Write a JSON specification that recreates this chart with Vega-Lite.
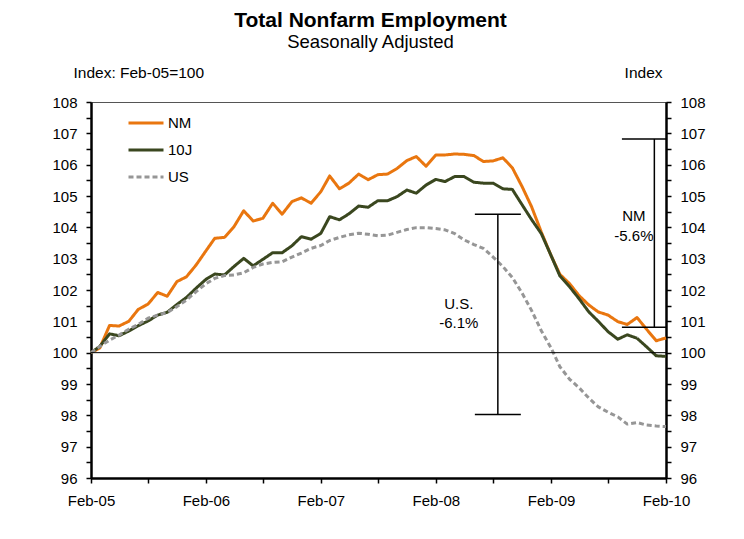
{
  "$schema": "https://vega.github.io/schema/vega-lite/v6.json",
  "width": 575,
  "height": 376,
  "autosize": {"type": "none"},
  "padding": {"left": 91, "top": 102, "right": 78, "bottom": 61},
  "background": "white",
  "config": {
    "font": "Liberation Sans",
    "view": {"stroke": "#555555", "strokeWidth": 1},
    "axis": {"grid": false, "labelFont": "Liberation Sans", "labelFontSize": 15, "labelColor": "black", "domainColor": "black", "domainWidth": 2.5, "tickColor": "black", "tickWidth": 1.5, "tickSize": 5, "titleFont": "Liberation Sans", "titleFontSize": 15.5, "titleFontWeight": "normal", "titleColor": "black"},
    "legend": {"labelFont": "Liberation Sans", "labelFontSize": 15, "labelColor": "black", "symbolType": "stroke", "symbolSize": 1225, "symbolStrokeWidth": 3}
  },
  "title": {
    "text": "Total Nonfarm Employment",
    "subtitle": "Seasonally Adjusted",
    "fontSize": 21,
    "fontWeight": "bold",
    "color": "black",
    "subtitleFontSize": 18.5,
    "subtitleColor": "black",
    "subtitlePadding": 2,
    "anchor": "middle",
    "frame": "group",
    "dx": -8,
    "offset": 14
  },
  "datasets": {
    "employment": [
      {"date": "2005-02-01", "NM": 100.0, "10J": 100.0, "US": 100.0},
      {"date": "2005-03-01", "NM": 100.15, "10J": 100.2, "US": 100.2},
      {"date": "2005-04-01", "NM": 100.87, "10J": 100.6, "US": 100.4},
      {"date": "2005-05-01", "NM": 100.85, "10J": 100.54, "US": 100.56},
      {"date": "2005-06-01", "NM": 101.0, "10J": 100.69, "US": 100.75},
      {"date": "2005-07-01", "NM": 101.38, "10J": 100.86, "US": 100.9},
      {"date": "2005-08-01", "NM": 101.55, "10J": 101.01, "US": 101.1},
      {"date": "2005-09-01", "NM": 101.92, "10J": 101.2, "US": 101.2},
      {"date": "2005-10-01", "NM": 101.8, "10J": 101.29, "US": 101.28},
      {"date": "2005-11-01", "NM": 102.27, "10J": 101.54, "US": 101.47},
      {"date": "2005-12-01", "NM": 102.42, "10J": 101.76, "US": 101.68},
      {"date": "2006-01-01", "NM": 102.8, "10J": 102.06, "US": 101.95},
      {"date": "2006-02-01", "NM": 103.25, "10J": 102.34, "US": 102.2},
      {"date": "2006-03-01", "NM": 103.65, "10J": 102.51, "US": 102.37},
      {"date": "2006-04-01", "NM": 103.68, "10J": 102.48, "US": 102.46},
      {"date": "2006-05-01", "NM": 104.02, "10J": 102.75, "US": 102.48},
      {"date": "2006-06-01", "NM": 104.53, "10J": 103.01, "US": 102.55},
      {"date": "2006-07-01", "NM": 104.2, "10J": 102.77, "US": 102.72},
      {"date": "2006-08-01", "NM": 104.29, "10J": 102.98, "US": 102.83},
      {"date": "2006-09-01", "NM": 104.77, "10J": 103.19, "US": 102.88},
      {"date": "2006-10-01", "NM": 104.42, "10J": 103.19, "US": 102.9},
      {"date": "2006-11-01", "NM": 104.82, "10J": 103.41, "US": 103.05},
      {"date": "2006-12-01", "NM": 104.94, "10J": 103.7, "US": 103.18},
      {"date": "2007-01-01", "NM": 104.77, "10J": 103.62, "US": 103.33},
      {"date": "2007-02-01", "NM": 105.14, "10J": 103.81, "US": 103.42},
      {"date": "2007-03-01", "NM": 105.64, "10J": 104.34, "US": 103.58},
      {"date": "2007-04-01", "NM": 105.23, "10J": 104.24, "US": 103.68},
      {"date": "2007-05-01", "NM": 105.41, "10J": 104.43, "US": 103.76},
      {"date": "2007-06-01", "NM": 105.7, "10J": 104.68, "US": 103.81},
      {"date": "2007-07-01", "NM": 105.52, "10J": 104.64, "US": 103.78},
      {"date": "2007-08-01", "NM": 105.68, "10J": 104.85, "US": 103.73},
      {"date": "2007-09-01", "NM": 105.7, "10J": 104.85, "US": 103.75},
      {"date": "2007-10-01", "NM": 105.88, "10J": 104.98, "US": 103.84},
      {"date": "2007-11-01", "NM": 106.13, "10J": 105.19, "US": 103.93},
      {"date": "2007-12-01", "NM": 106.26, "10J": 105.09, "US": 103.99},
      {"date": "2008-01-01", "NM": 105.95, "10J": 105.35, "US": 103.99},
      {"date": "2008-02-01", "NM": 106.31, "10J": 105.53, "US": 103.96},
      {"date": "2008-03-01", "NM": 106.31, "10J": 105.46, "US": 103.92},
      {"date": "2008-04-01", "NM": 106.34, "10J": 105.62, "US": 103.8},
      {"date": "2008-05-01", "NM": 106.33, "10J": 105.62, "US": 103.6},
      {"date": "2008-06-01", "NM": 106.29, "10J": 105.44, "US": 103.45},
      {"date": "2008-07-01", "NM": 106.1, "10J": 105.41, "US": 103.33},
      {"date": "2008-08-01", "NM": 106.12, "10J": 105.41, "US": 103.05},
      {"date": "2008-09-01", "NM": 106.22, "10J": 105.23, "US": 102.75},
      {"date": "2008-10-01", "NM": 105.9, "10J": 105.21, "US": 102.4},
      {"date": "2008-11-01", "NM": 105.3, "10J": 104.72, "US": 101.9},
      {"date": "2008-12-01", "NM": 104.66, "10J": 104.25, "US": 101.35},
      {"date": "2009-01-01", "NM": 103.85, "10J": 103.8, "US": 100.7},
      {"date": "2009-02-01", "NM": 103.1, "10J": 103.1, "US": 100.15},
      {"date": "2009-03-01", "NM": 102.5, "10J": 102.45, "US": 99.55},
      {"date": "2009-04-01", "NM": 102.2, "10J": 102.1, "US": 99.15},
      {"date": "2009-05-01", "NM": 101.82, "10J": 101.72, "US": 98.88},
      {"date": "2009-06-01", "NM": 101.52, "10J": 101.3, "US": 98.55},
      {"date": "2009-07-01", "NM": 101.3, "10J": 101.0, "US": 98.27},
      {"date": "2009-08-01", "NM": 101.2, "10J": 100.67, "US": 98.1},
      {"date": "2009-09-01", "NM": 100.99, "10J": 100.43, "US": 97.95},
      {"date": "2009-10-01", "NM": 100.9, "10J": 100.57, "US": 97.72},
      {"date": "2009-11-01", "NM": 101.12, "10J": 100.46, "US": 97.77},
      {"date": "2009-12-01", "NM": 100.75, "10J": 100.19, "US": 97.69},
      {"date": "2010-01-01", "NM": 100.38, "10J": 99.9, "US": 97.66},
      {"date": "2010-02-01", "NM": 100.47, "10J": 99.88, "US": 97.64}
    ],
    "spans": [
      {"date": "2008-08-16", "lo": 98.03, "hi": 104.42},
      {"date": "2009-12-26", "lo": 100.81, "hi": 106.82}
    ],
    "caps": [
      {"start": "2008-06-04", "end": "2008-10-28", "level": 104.42},
      {"start": "2008-06-04", "end": "2008-10-28", "level": 98.03},
      {"start": "2009-09-14", "end": "2010-02-01", "level": 106.82},
      {"start": "2009-09-14", "end": "2010-02-01", "level": 100.81}
    ],
    "notes": [
      {"date": "2008-04-14", "value": 101.55, "label": "U.S."},
      {"date": "2008-04-14", "value": 100.96, "label": "-6.1%"},
      {"date": "2009-10-22", "value": 104.36, "label": "NM"},
      {"date": "2009-10-22", "value": 103.73, "label": "-5.6%"}
    ]
  },
  "resolve": {"axis": {"y": "independent"}},
  "layer": [
    {
      "data": {"name": "employment"},
      "transform": [{"fold": ["NM", "10J", "US"], "as": ["series", "value"]}],
      "mark": {"type": "line", "strokeJoin": "round"},
      "encoding": {
        "x": {
          "field": "date", "type": "temporal", "title": null,
          "scale": {"type": "utc", "domain": [{"year": 2005, "month": 2, "date": 1, "utc": true}, {"year": 2010, "month": 2, "date": 1, "utc": true}]},
          "axis": {
            "values": [
              {"year": 2005, "month": 2, "date": 1, "utc": true}, {"year": 2005, "month": 5, "date": 1, "utc": true}, {"year": 2005, "month": 8, "date": 1, "utc": true}, {"year": 2005, "month": 11, "date": 1, "utc": true},
              {"year": 2006, "month": 2, "date": 1, "utc": true}, {"year": 2006, "month": 5, "date": 1, "utc": true}, {"year": 2006, "month": 8, "date": 1, "utc": true}, {"year": 2006, "month": 11, "date": 1, "utc": true},
              {"year": 2007, "month": 2, "date": 1, "utc": true}, {"year": 2007, "month": 5, "date": 1, "utc": true}, {"year": 2007, "month": 8, "date": 1, "utc": true}, {"year": 2007, "month": 11, "date": 1, "utc": true},
              {"year": 2008, "month": 2, "date": 1, "utc": true}, {"year": 2008, "month": 5, "date": 1, "utc": true}, {"year": 2008, "month": 8, "date": 1, "utc": true}, {"year": 2008, "month": 11, "date": 1, "utc": true},
              {"year": 2009, "month": 2, "date": 1, "utc": true}, {"year": 2009, "month": 5, "date": 1, "utc": true}, {"year": 2009, "month": 8, "date": 1, "utc": true}, {"year": 2009, "month": 11, "date": 1, "utc": true},
              {"year": 2010, "month": 2, "date": 1, "utc": true}
            ],
            "labelExpr": "utcmonth(datum.value) == 1 ? utcFormat(datum.value, '%b-%y') : ''",
            "labelPadding": 10,
            "labelOverlap": false,
            "labelFlush": false
          }
        },
        "y": {
          "field": "value", "type": "quantitative",
          "scale": {"domain": [96, 108], "nice": false, "zero": false},
          "axis": {
            "orient": "left",
            "title": "Index: Feb-05=100",
            "titleAngle": 0, "titleAlign": "left", "titleBaseline": "alphabetic",
            "titleX": -18, "titleY": -25,
            "values": [96, 96.5, 97, 97.5, 98, 98.5, 99, 99.5, 100, 100.5, 101, 101.5, 102, 102.5, 103, 103.5, 104, 104.5, 105, 105.5, 106, 106.5, 107, 107.5, 108],
            "labelExpr": "datum.value % 1 == 0 ? format(datum.value, 'd') : ''",
            "labelPadding": 9,
            "labelOverlap": false
          }
        },
        "color": {
          "field": "series", "type": "nominal",
          "scale": {"domain": ["NM", "10J", "US"], "range": ["#E9760F", "#3A471F", "#969696"]},
          "legend": {
            "title": null, "orient": "none", "legendX": 36, "legendY": 2,
            "symbolType": "stroke", "symbolSize": 1225, "symbolStrokeWidth": 3,
            "labelOffset": 3, "rowPadding": -8, "padding": 0
          }
        },
        "strokeDash": {
          "field": "series", "type": "nominal",
          "scale": {"domain": ["NM", "10J", "US"], "range": [[1, 0], [1, 0], [5, 3]]},
          "legend": {
            "title": null, "orient": "none", "legendX": 36, "legendY": 2,
            "symbolType": "stroke", "symbolSize": 1225, "symbolStrokeWidth": 3,
            "labelOffset": 3, "rowPadding": -8, "padding": 0
          }
        },
        "strokeWidth": {
          "field": "series", "type": "nominal",
          "scale": {"domain": ["NM", "10J", "US"], "range": [3, 3, 2]},
          "legend": null
        }
      }
    },
    {
      "data": {"values": [{"level": 100}]},
      "mark": {"type": "rule", "color": "black", "strokeWidth": 1},
      "encoding": {
        "y": {
          "field": "level", "type": "quantitative",
          "axis": {
            "orient": "right",
            "title": "Index",
            "titleAngle": 0, "titleAlign": "right", "titleBaseline": "alphabetic",
            "titleX": -4, "titleY": -25,
            "values": [96, 96.5, 97, 97.5, 98, 98.5, 99, 99.5, 100, 100.5, 101, 101.5, 102, 102.5, 103, 103.5, 104, 104.5, 105, 105.5, 106, 106.5, 107, 107.5, 108],
            "labelExpr": "datum.value % 1 == 0 ? format(datum.value, 'd') : ''",
            "labelPadding": 9,
            "labelOverlap": false
          }
        }
      }
    },
    {
      "data": {"name": "spans"},
      "mark": {"type": "rule", "color": "black", "strokeWidth": 1.5},
      "encoding": {
        "x": {"field": "date", "type": "temporal", "title": null},
        "y": {"field": "lo", "type": "quantitative", "axis": null},
        "y2": {"field": "hi"}
      }
    },
    {
      "data": {"name": "caps"},
      "mark": {"type": "rule", "color": "black", "strokeWidth": 1.5},
      "encoding": {
        "x": {"field": "start", "type": "temporal", "title": null},
        "x2": {"field": "end"},
        "y": {"field": "level", "type": "quantitative", "axis": null}
      }
    },
    {
      "data": {"name": "notes"},
      "mark": {"type": "text", "fontSize": 15, "color": "black", "align": "center", "baseline": "middle", "font": "Liberation Sans"},
      "encoding": {
        "x": {"field": "date", "type": "temporal", "title": null},
        "y": {"field": "value", "type": "quantitative", "axis": null},
        "text": {"field": "label", "type": "nominal"}
      }
    }
  ]
}
